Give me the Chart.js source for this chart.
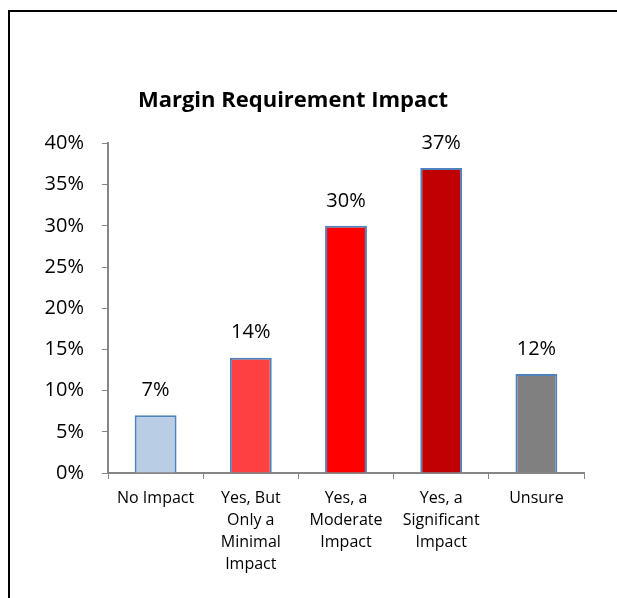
<!DOCTYPE html>
<html>
<head>
<meta charset="utf-8">
<script src="https://cdn.jsdelivr.net/npm/chart.js@4/dist/chart.umd.min.js"></script>
<style>
  body { margin: 0; background: #fff; }
  #frame { position: absolute; left: 8px; top: 10px; width: 700px; height: 700px; border: 2px solid #000; }
  #chart { position: absolute; left: 0; top: 0; }
</style>
</head>
<body>
<div id="frame"></div>
<canvas id="chart" width="617" height="598"></canvas>
<script>
var categories = [
    ["No Impact"],
    ["Yes, But", "Only a", "Minimal", "Impact"],
    ["Yes, a", "Moderate", "Impact"],
    ["Yes, a", "Significant", "Impact"],
    ["Unsure"]
];
var values = [7, 14, 30, 37, 12];
var barColors = ['#B9CDE5', '#FF4040', '#FF0000', '#C00000', '#808080'];
var yTicks = [0, 5, 10, 15, 20, 25, 30, 35, 40];

var font = "'Open Sans', sans-serif";
var axisColor = '#868686';

// draws the value above each bar
var valueLabels = {
    id: 'valueLabels',
    afterDatasetsDraw: function (chart) {
        var ctx = chart.ctx;
        var meta = chart.getDatasetMeta(0);
        ctx.save();
        ctx.font = '20px ' + font;
        ctx.fillStyle = '#000';
        ctx.textAlign = 'center';
        ctx.textBaseline = 'middle';
        meta.data.forEach(function (bar, i) {
            ctx.fillText(values[i] + '%', bar.x, bar.y - 25);
        });
        ctx.restore();
    }
};

var ctx = document.getElementById('chart').getContext('2d');
new Chart(ctx, {
    type: 'bar',
    data: {
        labels: categories,
        datasets: [{
            data: values,
            backgroundColor: barColors,
            borderColor: '#4F81BD',
            borderWidth: 2,
            categoryPercentage: 1,
            barPercentage: 0.44
        }]
    },
    options: {
        responsive: false,
        animation: false,
        layout: { padding: { left: 2, right: 33, top: 0, bottom: 0 } },
        plugins: {
            legend: { display: false },
            tooltip: { enabled: false },
            title: {
                display: true,
                text: 'Margin Requirement Impact',
                color: '#000',
                font: { family: font, size: 22, weight: 'bold', lineHeight: 1.2 },
                padding: { top: 88, bottom: 29 }
            }
        },
        scales: {
            x: {
                grid: { display: true, drawOnChartArea: false, color: axisColor, tickLength: 6, offset: true },
                border: { color: axisColor, width: 2 },
                ticks: {
                    color: '#000',
                    font: { family: font, size: 16, lineHeight: 1.375 },
                    maxRotation: 0,
                    autoSkip: false,
                    padding: 8
                },
                afterFit: function (scale) { scale.height = 125; }
            },
            y: {
                min: 0,
                max: 40,
                afterBuildTicks: function (scale) {
                    scale.ticks = yTicks.map(function (v) { return { value: v }; });
                },
                grid: { display: true, drawOnChartArea: false, color: axisColor, tickLength: 6 },
                border: { color: axisColor, width: 2 },
                ticks: {
                    color: '#000',
                    font: { family: font, size: 20 },
                    padding: 18,
                    callback: function (v) { return v + '%'; }
                },
                afterFit: function (scale) { scale.width = 106; }
            }
        }
    },
    plugins: [valueLabels]
});
</script>
</body>
</html>
